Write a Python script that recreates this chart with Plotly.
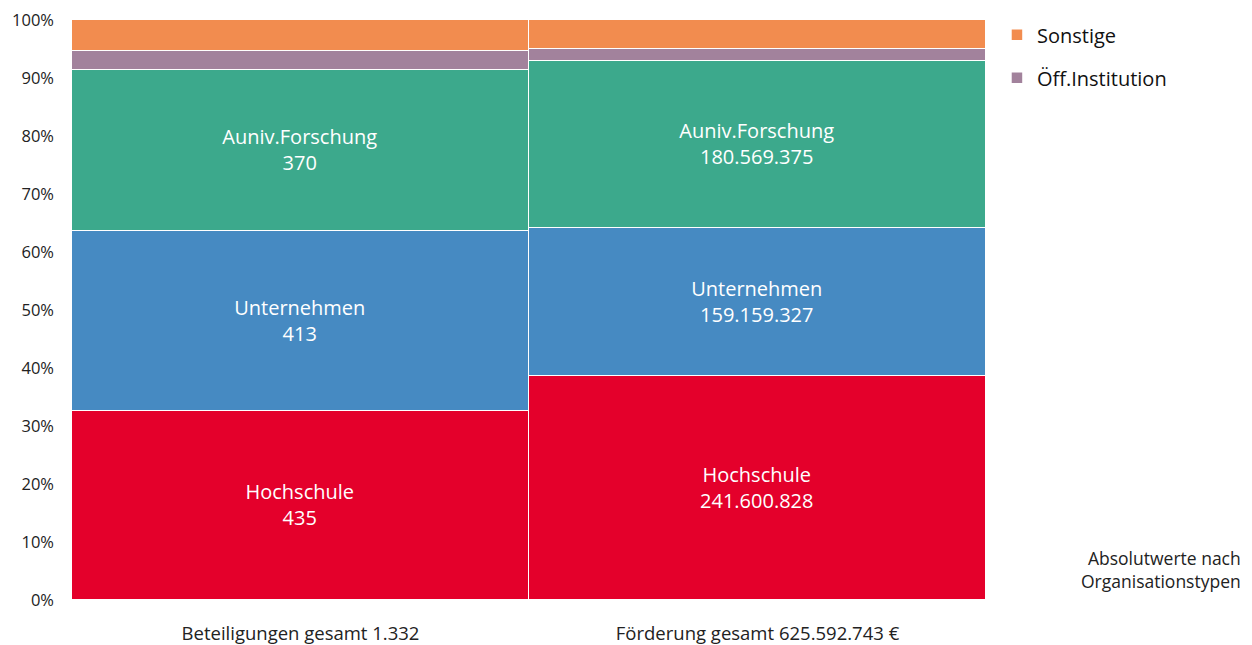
import plotly.graph_objects as go

categories = ["Beteiligungen gesamt 1.332", "Förderung gesamt 625.592.743 €"]
series_names = ["Hochschule", "Unternehmen", "Auniv.Forschung", "Öff.Institution", "Sonstige"]
hochschule = [435, 241600828]
unternehmen = [413, 159159327]
auniv = [370, 180569375]
oeff = [42, 13300000]
sonstige = [72, 30963213]
colors = ["#E4002B", "#468AC2", "#3CA98C", "#A2829C", "#F28C4F"]
show_label = [True, True, True, False, False]
legend_rank = [5, 4, 3, 2, 1]

FONT = "Open Sans, sans-serif"

def de(n):
    return f"{n:,}".replace(",", ".")

fig = go.Figure()
for name, vals, col, lab, rk in zip(series_names, [hochschule, unternehmen, auniv, oeff, sonstige],
                                    colors, show_label, legend_rank):
    fig.add_trace(go.Bar(
        x=categories, y=vals, name=name, legendgroup=name, legendrank=rk,
        marker=dict(color=col, line=dict(color="white", width=1.5)),
        text=[f"{name}<br>{de(v)}" for v in vals] if lab else None,
        textposition="inside" if lab else "none",
        insidetextanchor="middle",
        textfont=dict(color="white", size=20, family=FONT),
        showlegend=not lab,
    ))

# page body has an 8px margin; compensate so the plot area sits at about x 72..986, y 20..600
W, H = 1244, 637
fig.update_layout(
    barmode="stack", barnorm="percent", bargap=0,
    width=W, height=H,
    margin=dict(l=64, r=266, t=12, b=45, autoexpand=False),
    plot_bgcolor="white", paper_bgcolor="white",
    font=dict(family=FONT, size=16, color="#222"),
    legend=dict(x=1.012, y=1.008, xanchor="left", yanchor="top", traceorder="grouped",
                font=dict(size=20, family=FONT, color="#111"), itemwidth=30, tracegroupgap=14),
    xaxis=dict(showline=False, ticks="", tickfont=dict(size=18.5), ticklabelstandoff=20, automargin=False),
    yaxis=dict(range=[0, 100], dtick=10, ticksuffix="%", showgrid=False, zeroline=False,
               tickfont=dict(size=16.5), ticklabelstandoff=17, automargin=False,
               ticklabeloverflow="allow"),
    annotations=[dict(text="Absolutwerte nach<br>Organisationstypen",
                      x=(1243 - 72) / 914, xref="paper",
                      y=(600 - 595) / 580, yref="paper", showarrow=False, align="right",
                      xanchor="right", yanchor="bottom",
                      font=dict(size=17.5, color="#222"))],
)
fig.write_html("out.html")
